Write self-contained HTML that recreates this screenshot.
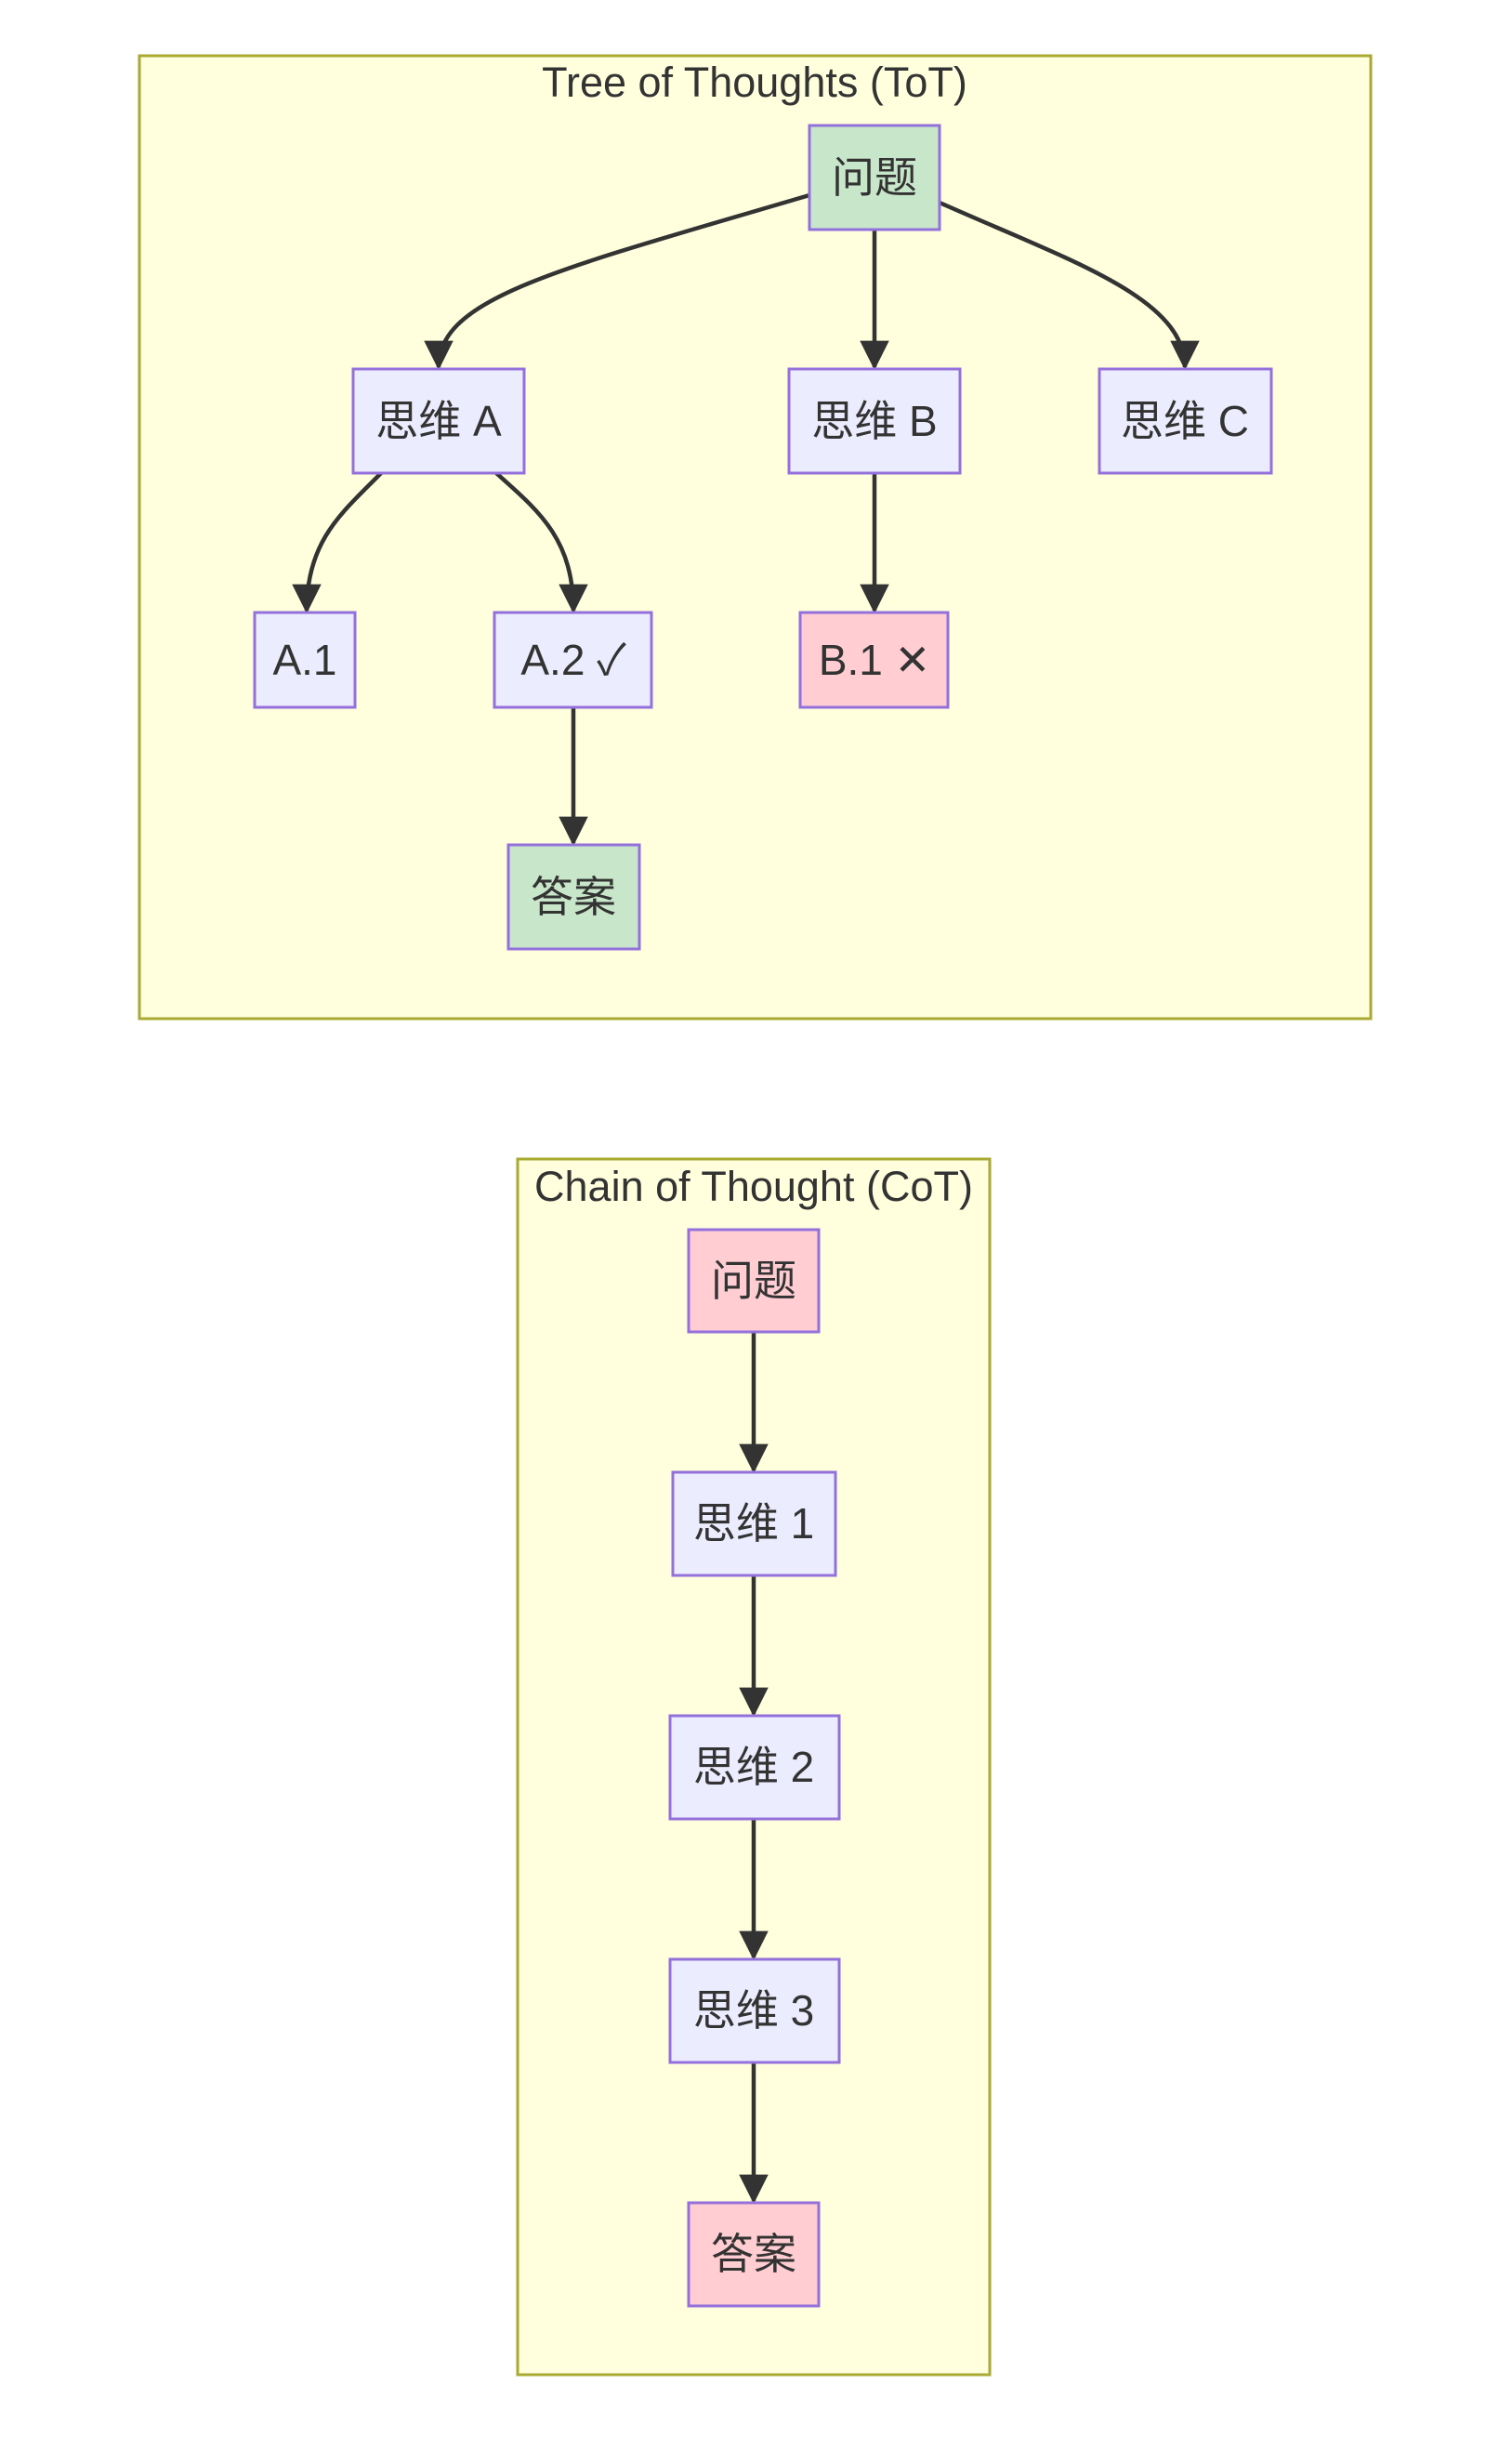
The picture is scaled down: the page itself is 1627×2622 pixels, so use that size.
<!DOCTYPE html>
<html><head><meta charset="utf-8"><style>
html,body{margin:0;padding:0;background:#fff;}
svg{display:block;}
text{font-family:"Liberation Sans","Noto Sans CJK SC",sans-serif;fill:#333;}
</style></head><body>
<svg width="1627" height="2622" viewBox="0 0 1627 2622" xmlns="http://www.w3.org/2000/svg">
<defs>
<marker id="ah" viewBox="0 0 10 10" refX="9" refY="5" markerWidth="7" markerHeight="7" markerUnits="strokeWidth" orient="auto">
<path d="M0,0 L10,5 L0,10 z" fill="#333"/>
</marker>
</defs>
<!-- ToT cluster -->
<rect x="150" y="60" width="1325" height="1036" fill="#ffffde" stroke="#aaaa33" stroke-width="3"/>
<text x="812" y="104" font-size="45" text-anchor="middle">Tree of Thoughts (ToT)</text>
<g fill="none" stroke="#333" stroke-width="4.5" marker-end="url(#ah)">
<path d="M871,210 C600,290 472,320 472,395"/>
<path d="M941,247 L941,395"/>
<path d="M1011,218 C1150,280 1275,320 1275,395"/>
<path d="M410,509 C370,550 330,580 330,657"/>
<path d="M534,509 C580,550 617,580 617,657"/>
<path d="M941,509 L941,657"/>
<path d="M617,761 L617,907"/>
</g>
<g stroke="#9370db" stroke-width="3">
<rect x="871" y="135" width="140" height="112" fill="#c8e6c9"/>
<rect x="380" y="397" width="184" height="112" fill="#ececff"/>
<rect x="849" y="397" width="184" height="112" fill="#ececff"/>
<rect x="1183" y="397" width="185" height="112" fill="#ececff"/>
<rect x="274" y="659" width="108" height="102" fill="#ececff"/>
<rect x="532" y="659" width="169" height="102" fill="#ececff"/>
<rect x="861" y="659" width="159" height="102" fill="#ffcdd2"/>
<rect x="547" y="909" width="141" height="112" fill="#c8e6c9"/>
</g>
<g font-size="46" text-anchor="middle">
<text x="941" y="207">问题</text>
<text x="472" y="469">思维 A</text>
<text x="941" y="469">思维 B</text>
<text x="1275" y="469">思维 C</text>
<text x="328" y="726">A.1</text>
<text x="617" y="726">A.2 ✓</text>
<text x="941" y="726">B.1 ✕</text>
<text x="617" y="981">答案</text>
</g>
<!-- CoT cluster -->
<rect x="557" y="1247" width="508" height="1308" fill="#ffffde" stroke="#aaaa33" stroke-width="3"/>
<text x="811" y="1292" font-size="45" text-anchor="middle">Chain of Thought (CoT)</text>
<g fill="none" stroke="#333" stroke-width="4.5" marker-end="url(#ah)">
<path d="M811,1433 L811,1582"/>
<path d="M811,1695 L811,1844"/>
<path d="M811,1957 L811,2106"/>
<path d="M811,2219 L811,2368"/>
</g>
<g stroke="#9370db" stroke-width="3">
<rect x="741" y="1323" width="140" height="110" fill="#ffcdd2"/>
<rect x="724" y="1584" width="175" height="111" fill="#ececff"/>
<rect x="721" y="1846" width="182" height="111" fill="#ececff"/>
<rect x="721" y="2108" width="182" height="111" fill="#ececff"/>
<rect x="741" y="2370" width="140" height="111" fill="#ffcdd2"/>
</g>
<g font-size="46" text-anchor="middle">
<text x="811" y="1394">问题</text>
<text x="811" y="1655">思维 1</text>
<text x="811" y="1917">思维 2</text>
<text x="811" y="2179">思维 3</text>
<text x="811" y="2441">答案</text>
</g>
</svg>
</body></html>
